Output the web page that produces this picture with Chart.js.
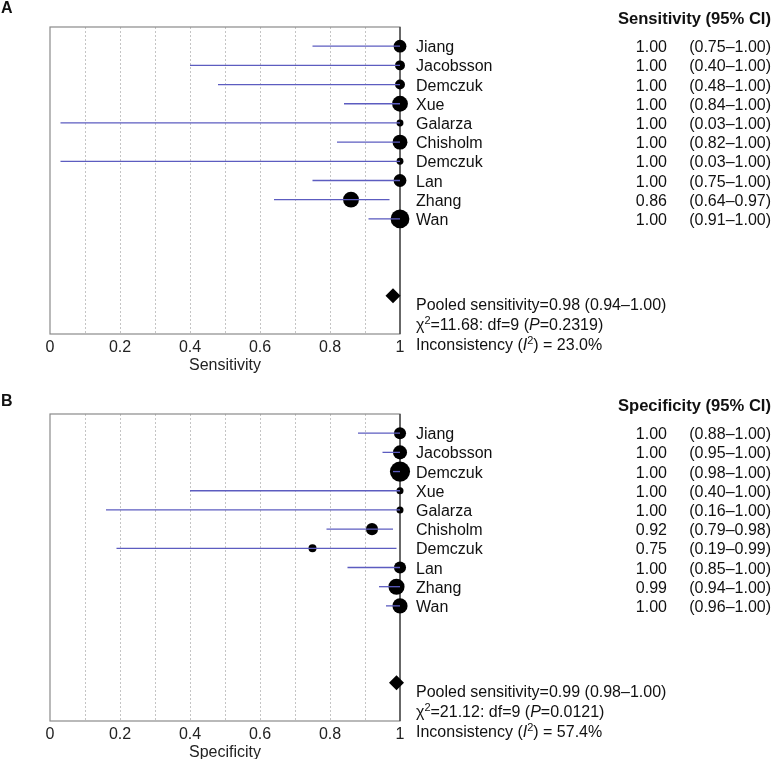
<!DOCTYPE html>
<html>
<head>
<meta charset="utf-8">
<script src="https://cdn.jsdelivr.net/npm/chart.js@4.4.0/dist/chart.umd.min.js"></script>
<style>
  html, body { margin: 0; padding: 0; background: #fff; overflow: hidden; }
  #wrap { position: relative; width: 773px; height: 759px; }
  canvas { position: absolute; left: 0; }
  #chartA { top: 0; }
  #chartB { top: 387px; }
</style>
</head>
<body>
<div id="wrap">
  <canvas id="chartA" width="773" height="387"></canvas>
  <canvas id="chartB" width="773" height="387"></canvas>
</div>
<script>
const studies = ['Jiang', 'Jacobsson', 'Demczuk', 'Xue', 'Galarza', 'Chisholm', 'Demczuk', 'Lan', 'Zhang', 'Wan'];
const xTicks = [0, 0.2, 0.4, 0.6, 0.8, 1];

// sensitivity
const sensEst = [1.00, 1.00, 1.00, 1.00, 1.00, 1.00, 1.00, 1.00, 0.86, 1.00];
const sensLo = [0.75, 0.40, 0.48, 0.84, 0.03, 0.82, 0.03, 0.75, 0.64, 0.91];
const sensHi = [1.00, 1.00, 1.00, 1.00, 1.00, 1.00, 1.00, 1.00, 0.97, 1.00];
const sensWeight = [9.7, 5.8, 5.8, 14.8, 2.8, 13.0, 2.8, 9.7, 14.8, 20.8];
const sensPooled = [0.98, 0.94, 1.00];
const sensHet = { chi2: 11.68, df: 9, p: 0.2319, i2: 23.0 };

// specificity
const specEst = [1.00, 1.00, 1.00, 1.00, 1.00, 0.92, 0.75, 1.00, 0.99, 1.00];
const specLo = [0.88, 0.95, 0.98, 0.40, 0.16, 0.79, 0.19, 0.85, 0.94, 0.96];
const specHi = [1.00, 1.00, 1.00, 1.00, 1.00, 0.98, 0.99, 1.00, 1.00, 1.00];
const specWeight = [8.6, 11.7, 23.9, 2.9, 2.9, 8.6, 3.8, 8.6, 15.3, 13.5];
const specPooled = [0.99, 0.98, 1.00];
const specHet = { chi2: 21.12, df: 9, p: 0.0121, i2: 57.4 };

const FONT = '"Liberation Sans", Arial, Helvetica, sans-serif';
const POOLED_ROW = 14;
const CI_COLOR = '#5c5cc0';

Chart.defaults.font.family = FONT;
Chart.defaults.color = '#222';

function drawRich(ctx, x, y, parts) {
  let cx = x;
  for (const [t, style] of parts) {
    if (style === 'sup') {
      ctx.font = `11px ${FONT}`;
      ctx.fillText(t, cx, y - 6);
    } else if (style === 'i') {
      ctx.font = `italic 16px ${FONT}`;
      ctx.fillText(t, cx, y);
    } else {
      ctx.font = `16px ${FONT}`;
      ctx.fillText(t, cx, y);
    }
    cx += ctx.measureText(t).width;
  }
}

const forestText = {
  id: 'forestText',
  beforeDatasetsDraw(chart) {
    const { ctx, chartArea: a, scales: { x } } = chart;
    ctx.save();
    ctx.strokeStyle = '#8a8a8a';
    ctx.lineWidth = 1.2;
    ctx.strokeRect(a.left, a.top, a.right - a.left, a.bottom - a.top);
    ctx.strokeStyle = '#333';
    const x1 = x.getPixelForValue(1);
    ctx.beginPath();
    ctx.moveTo(x1, a.top);
    ctx.lineTo(x1, a.bottom);
    ctx.stroke();
    ctx.restore();
  },
  afterDraw(chart, args, opts) {
    const { ctx, chartArea: a, scales: { y } } = chart;
    ctx.save();
    ctx.fillStyle = '#111';
    ctx.textBaseline = 'alphabetic';

    ctx.font = `bold 16px ${FONT}`;
    ctx.textAlign = 'left';
    ctx.fillText(opts.letter, 1, opts.letterY);
    ctx.font = `bold 16.6px ${FONT}`;
    ctx.textAlign = 'right';
    ctx.fillText(opts.header, 771, a.top - 3);

    ctx.font = `16px ${FONT}`;
    studies.forEach((name, i) => {
      const py = y.getPixelForValue(i + 1) + 6;
      ctx.textAlign = 'left';
      ctx.fillText(name, 416, py);
      ctx.textAlign = 'right';
      ctx.fillText(opts.est[i].toFixed(2), 667, py);
      ctx.fillText(`(${opts.lo[i].toFixed(2)}\u2013${opts.hi[i].toFixed(2)})`, 771, py);
    });

    const [pe, pl, ph] = opts.pooled;
    const h = opts.het;
    const base = y.getPixelForValue(POOLED_ROW) + 14;
    ctx.textAlign = 'left';
    drawRich(ctx, 416, base, [[`Pooled sensitivity=${pe.toFixed(2)} (${pl.toFixed(2)}\u2013${ph.toFixed(2)})`, '']]);
    drawRich(ctx, 416, base + 20, [['\u03c7', ''], ['2', 'sup'], [`=${h.chi2.toFixed(2)}: df=${h.df} (`, ''], ['P', 'i'], [`=${h.p.toFixed(4)})`, '']]);
    drawRich(ctx, 416, base + 40, [['Inconsistency (', ''], ['I', 'i'], ['2', 'sup'], [`) = ${h.i2.toFixed(1)}%`, '']]);
    ctx.restore();
  }
};

function makeForest(id, cfg) {
  const rows = studies.map((_, i) => i + 1);
  const ciSets = rows.map((r, i) => ({
    type: 'scatter',
    data: [{ x: cfg.lo[i], y: r }, { x: cfg.hi[i], y: r }],
    showLine: true,
    borderColor: CI_COLOR,
    borderWidth: 1.3,
    pointRadius: 0,
    order: 0,
    clip: false,
  }));
  const pointSet = {
    type: 'scatter',
    data: rows.map((r, i) => ({ x: cfg.est[i], y: r })),
    pointRadius: cfg.weight.map(w => 2.06 * Math.sqrt(w)),
    backgroundColor: '#000',
    borderWidth: 0,
    order: 1,
    clip: false,
  };
  const pooledSet = {
    type: 'scatter',
    data: [{ x: cfg.pooled[0], y: POOLED_ROW }],
    pointStyle: 'rectRot',
    pointRadius: 7.5,
    backgroundColor: '#000',
    borderWidth: 0,
    order: 1,
    clip: false,
  };

  return new Chart(document.getElementById(id), {
    type: 'scatter',
    data: { datasets: [...ciSets, pointSet, pooledSet] },
    plugins: [forestText],
    options: {
      responsive: false,
      animation: false,
      devicePixelRatio: 1,
      layout: { padding: { left: 50, right: 373, top: 27, bottom: 0 } },
      plugins: {
        legend: { display: false },
        tooltip: { enabled: false },
        forestText: {
          letter: cfg.letter,
          letterY: cfg.letterY,
          header: cfg.header,
          est: cfg.est, lo: cfg.lo, hi: cfg.hi,
          pooled: cfg.pooled, het: cfg.het,
        },
      },
      scales: {
        x: {
          type: 'linear',
          min: 0,
          max: 1,
          afterFit: s => { s.height = 53; },
          ticks: {
            stepSize: 0.1,
            autoSkip: false,
            maxRotation: 0,
            padding: 4,
            font: { size: 16 },
            color: '#222',
            callback: v => {
              const r = Math.round(v * 10) / 10;
              return xTicks.includes(r) ? String(r) : '';
            },
          },
          grid: {
            drawTicks: false,
            lineWidth: 1,
            color: c => (c.tick && (c.tick.value <= 0.001 || c.tick.value >= 0.999)) ? 'rgba(0,0,0,0)' : '#c4c4c4',
          },
          border: { display: false, dash: [2, 2] },
          title: {
            display: true,
            text: cfg.axisTitle,
            font: { size: 16 },
            color: '#222',
            padding: { top: 0, bottom: 12 },
          },
        },
        y: {
          type: 'linear',
          min: 0,
          max: 16,
          reverse: true,
          display: false,
        },
      },
    },
  });
}

makeForest('chartA', {
  letter: 'A', letterY: 13, header: 'Sensitivity (95% CI)', axisTitle: 'Sensitivity',
  est: sensEst, lo: sensLo, hi: sensHi, weight: sensWeight, pooled: sensPooled, het: sensHet,
});
makeForest('chartB', {
  letter: 'B', letterY: 19, header: 'Specificity (95% CI)', axisTitle: 'Specificity',
  est: specEst, lo: specLo, hi: specHi, weight: specWeight, pooled: specPooled, het: specHet,
});
</script>
</body>
</html>
